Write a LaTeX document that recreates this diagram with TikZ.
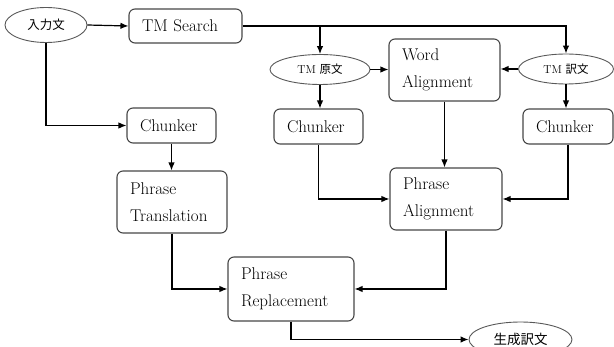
\documentclass[tikz,border=0pt]{standalone}
\usepackage{fontspec}
\newfontfamily\cjk{Noto Sans CJK JP}
\usetikzlibrary{shapes.geometric,arrows.meta}

\begin{document}
\begin{tikzpicture}[x=1pt,y=-1pt,
  procbox/.style={draw=black!72, line width=1.1pt, rounded corners=6pt,
    inner xsep=13pt, inner ysep=0pt, align=left,
    font=\fontsize{17}{26.5}\selectfont},
  databubble/.style={draw=black!65, line width=0.9pt, ellipse, inner sep=0pt,
    font=\fontsize{11.5}{14}\selectfont},
  flow/.style={draw=black, line width=1.2pt, -{Latex[length=8pt,width=6.5pt]}}]
\useasboundingbox (0,0) rectangle (614,347);

% data (ellipses)
\node[databubble, minimum width=82pt, minimum height=35pt, font=\fontsize{12.5}{14}\selectfont] (in) at (46,25) {\cjk 入力文};
\node[databubble, minimum width=100pt, minimum height=30pt] (ts) at (320,69.5) {TM {\cjk 原文}};
\node[databubble, minimum width=95pt, minimum height=30pt] (tt) at (566,69) {TM {\cjk 訳文}};
\node[databubble, minimum width=103pt, minimum height=35pt, font=\fontsize{13.5}{14}\selectfont] (out) at (520.5,339.5) {\cjk 生成訳文};

% processing steps (rounded boxes)
\node[procbox, minimum width=113pt, minimum height=34pt, text width=87pt] (tms) at (185.5,26) {TM Search};
\node[procbox, minimum width=111pt, minimum height=62pt, text width=85pt] (wa) at (444.5,70) {Word\\Alignment};
\node[procbox, minimum width=89pt, minimum height=35pt, text width=63pt] (cl) at (171.5,125.5) {Chunker};
\node[procbox, minimum width=89pt, minimum height=35pt, text width=63pt] (cm) at (318.5,126.5) {Chunker};
\node[procbox, minimum width=90pt, minimum height=35pt, text width=64pt] (cr) at (568,126.5) {Chunker};
\node[procbox, minimum width=110pt, minimum height=62pt, text width=84pt] (pt) at (172,202) {Phrase\\Translation};
\node[procbox, minimum width=112pt, minimum height=62pt, text width=86pt] (pa) at (446,199) {Phrase\\Alignment};
\node[procbox, minimum width=126pt, minimum height=64pt, text width=100pt] (pr) at (291,289) {Phrase\\Replacement};

% connectors
\draw[flow] (in.east) -- (tms.west);
\draw[flow] (in.south) |- (cl.west);
\draw[flow] (tms.east) -| (tt.north);
\draw[flow] (tms.east -| ts.north) -- (ts.north);
\draw[flow] (ts.east) -- (ts.east -| wa.west);
\draw[flow] (tt.west) -- (tt.west -| wa.east);
\draw[flow] (ts.south) -- (ts.south |- cm.north);
\draw[flow] (tt.south) -- (tt.south |- cr.north);
\draw[flow] (cl.south) -- (cl.south |- pt.north);
\draw[flow] (wa.south) -- (wa.south |- pa.north);
\draw[flow] (cm.south) |- (pa.west);
\draw[flow] (cr.south) |- (pa.east);
\draw[flow] (pt.south) |- (pr.west);
\draw[flow] (pa.south) |- (pr.east);
\draw[flow] (pr.south) |- (out.west);
\end{tikzpicture}
\end{document}
